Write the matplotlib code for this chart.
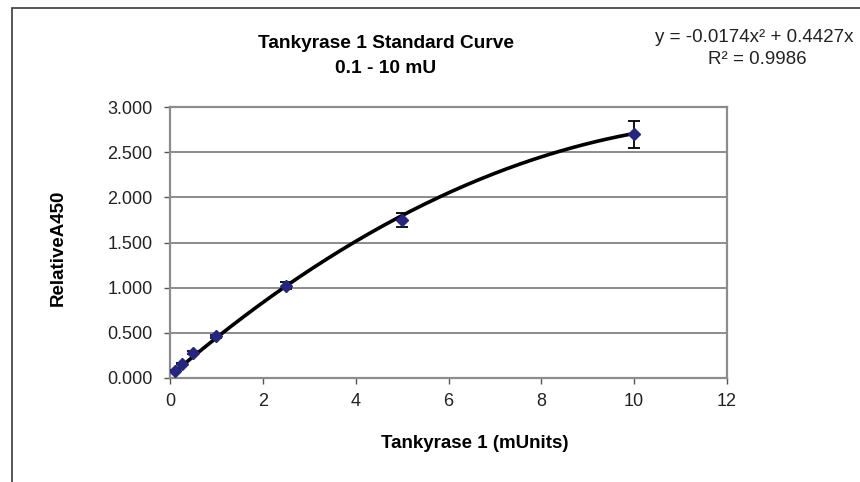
import matplotlib
matplotlib.use("Agg")
import matplotlib.pyplot as plt
import numpy as np
from matplotlib.patches import Rectangle

# data
conc = [0.1, 0.25, 0.5, 1.0, 2.5, 5.0, 10.0]
signal = [0.08, 0.16, 0.28, 0.46, 1.02, 1.75, 2.70]
signal_err = [0.01, 0.01, 0.015, 0.02, 0.04, 0.08, 0.15]

# quadratic trendline coefficients (intercept is hidden in the reference)
fit_coefs = [-0.0174, 0.4427, 0.02]

x_ticks = [0, 2, 4, 6, 8, 10, 12]
y_ticks = [0.0, 0.5, 1.0, 1.5, 2.0, 2.5, 3.0]

title_lines = ["Tankyrase 1 Standard Curve", "0.1 - 10 mU"]
x_label = "Tankyrase 1 (mUnits)"
y_label = "RelativeA450"
eq_text = "y = -0.0174x\u00b2 + 0.4427x"
r2_text = "R\u00b2 = 0.9986"

plt.rcParams["font.family"] = ["Liberation Sans", "DejaVu Sans"]

W, H = 860, 482
fig = plt.figure(figsize=(W / 100, H / 100), dpi=100)


def fx(px):
    return px / W


def fy(py):
    return 1 - py / H


# outer chart frame (cut off at the right and bottom)
fig.patches.append(
    Rectangle((fx(12), fy(900)), fx(1200), fy(8) - fy(900),
              transform=fig.transFigure, fill=False, ec="#3a3a3a", lw=1.2)
)

ax = fig.add_axes([fx(170), fy(378), fx(727) - fx(170), fy(107) - fy(378)])

grid_color = "#8c8c8c"
for v in y_ticks[1:]:
    ax.axhline(v, color=grid_color, lw=1.4, zorder=1)

xs = np.linspace(conc[0], conc[-1], 200)
ax.plot(xs, np.polyval(fit_coefs, xs), color="black", lw=2.6, zorder=3)

ax.errorbar(conc, signal, yerr=signal_err, fmt="D", color="#26267f",
            ms=6.5, mec="#26267f", ecolor="black", elinewidth=1.3,
            capsize=4, capthick=1.3, zorder=4)

ax.set_xlim(0, 12)
ax.set_ylim(0, 3)
ax.set_xticks(x_ticks)
ax.set_yticks(y_ticks)
ax.set_yticklabels([f"{v:.3f}" for v in y_ticks])
for s in ax.spines.values():
    s.set_color(grid_color)
    s.set_linewidth(1.6)
ax.tick_params(axis="both", direction="out", length=4.5, width=1.0,
               color="#555555", labelsize=13, labelcolor="#222222")
ax.tick_params(axis="y", pad=8)
ax.tick_params(axis="x", pad=6)

fig.text(fx(386), fy(43), title_lines[0], ha="center", va="center",
         fontsize=13.8, fontweight="bold")
fig.text(fx(386), fy(69), title_lines[1], ha="center", va="center",
         fontsize=13.8, fontweight="bold")
fig.text(fx(475), fy(443), x_label, ha="center", va="center",
         fontsize=13.5, fontweight="bold")
fig.text(fx(58), fy(248), y_label, ha="center", va="center",
         fontsize=13.5, fontweight="bold", rotation=90)
fig.text(fx(655), fy(38), eq_text, ha="left", va="center",
         fontsize=13.5, color="#222222")
fig.text(fx(708), fy(60), r2_text, ha="left", va="center",
         fontsize=13.5, color="#222222")

fig.savefig("out.png", dpi=100)
